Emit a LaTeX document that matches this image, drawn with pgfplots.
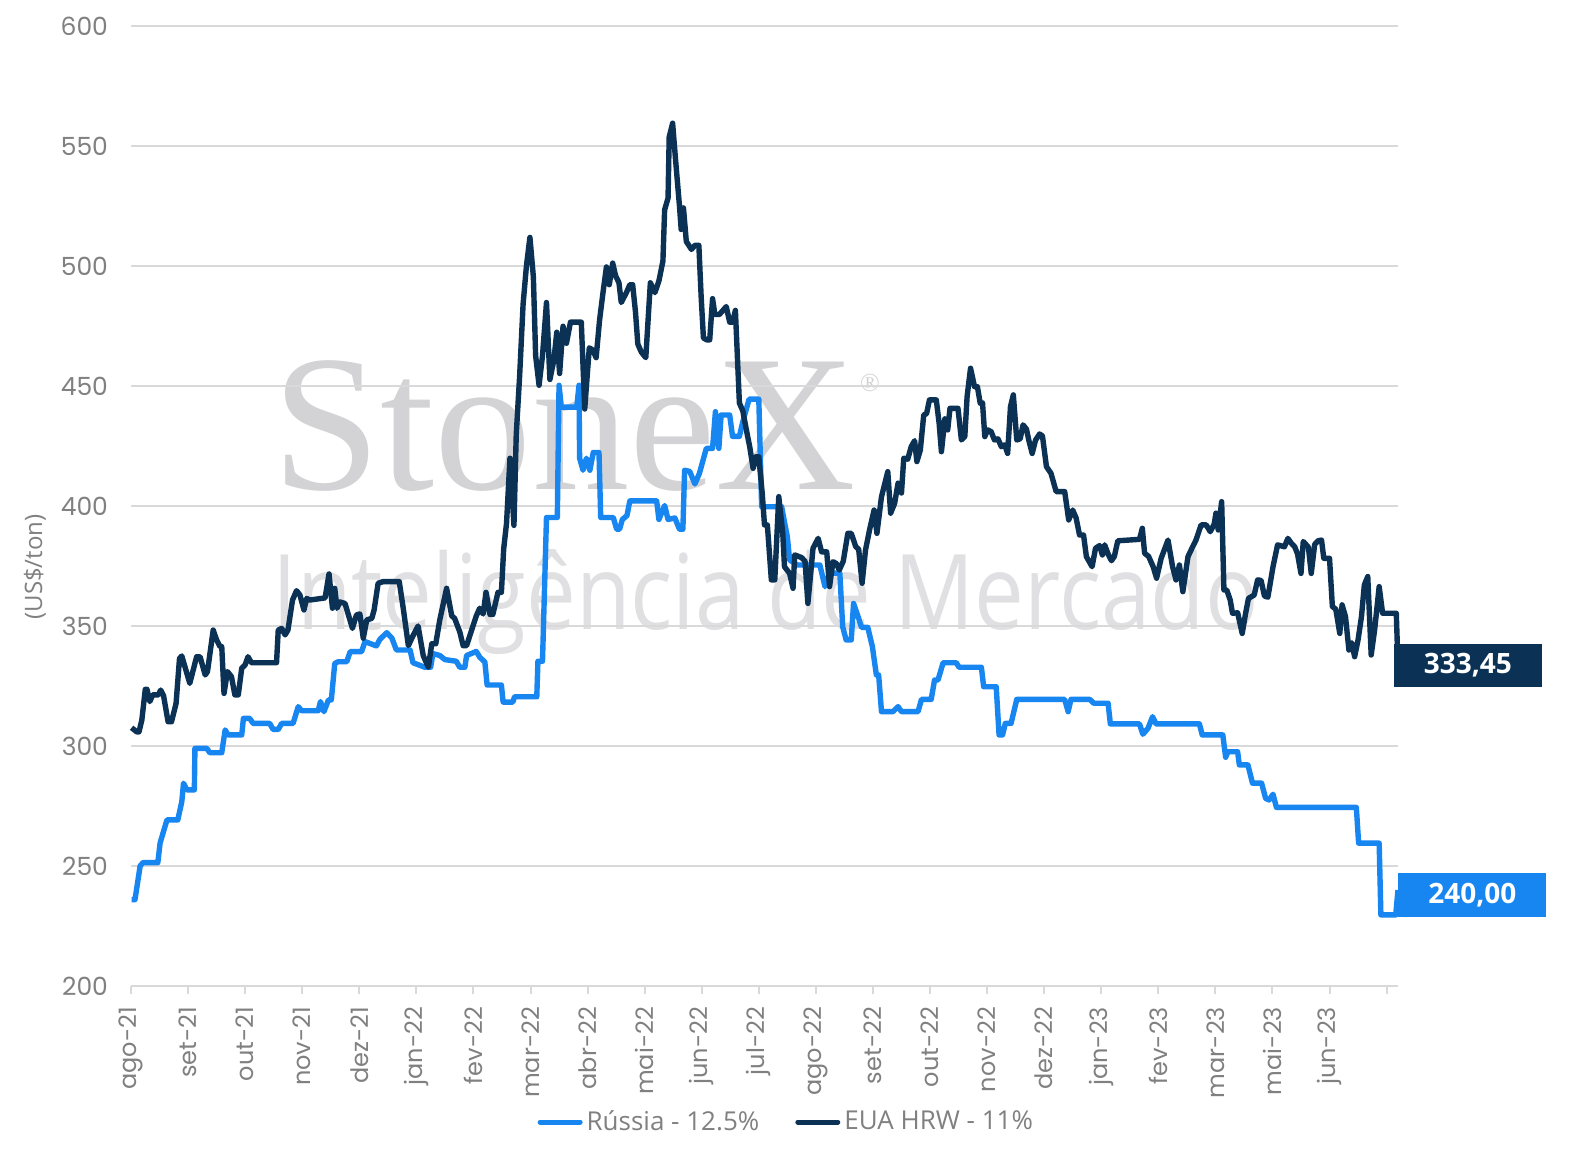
\documentclass[border=0pt]{standalone}
\usepackage{fontspec}
\usepackage{pgfplots}
\pgfplotsset{compat=1.18}
\setmainfont{Open Sans}
\newfontfamily\tickfont{Poppins}
\newfontfamily\legfont{Open Sans}
\newfontfamily\wmserif{Liberation Serif}
\newfontfamily\wmsans{Open Sans}
\definecolor{rus}{HTML}{1786F0}
\definecolor{eua}{HTML}{0B3154}
\definecolor{gridc}{HTML}{D9D9D9}
\definecolor{txt}{HTML}{808080}
\definecolor{wm}{HTML}{D3D3D5}
\definecolor{wmb}{HTML}{E0E0E2}
\begin{document}
\begin{tikzpicture}
\useasboundingbox (0pt,0pt) rectangle (785.5pt,580pt);
\fill[white] (0pt,0pt) rectangle (785.5pt,580pt);
% watermark
\node[anchor=base west,inner sep=0pt,text=wm] at (136pt,335pt) {\resizebox{292pt}{!}{\wmserif StoneX}};
\node[anchor=center,inner sep=0pt,text=wm] at (435pt,388.5pt) {\wmserif\fontsize{13}{13}\selectfont ®};
\node[anchor=base west,inner sep=0pt,text=wmb] at (136pt,265pt) {\resizebox{493pt}{40pt}{\wmsans Inteligência de Mercado}};
% y label
\node[rotate=90,text=txt,font=\legfont\fontsize{12}{12}\selectfont] at (17.5pt,296.5pt) {(US\$/ton)};
\begin{axis}[
  at={(65.5pt,87pt)}, anchor=south west, scale only axis,
  width=633.5pt, height=480pt,
  xmin=0, xmax=22.2, ymin=200, ymax=600,
  ytick={200,250,...,600},
  ymajorgrids, major grid style={gridc, line width=0.75pt},
  axis x line*=bottom, axis y line*=left,
  y axis line style={draw=none},
  x axis line style={gridc, line width=1pt},
  xtick={0,...,22},
  xticklabels={ago-21,set-21,out-21,nov-21,dez-21,jan-22,fev-22,mar-22,abr-22,mai-22,jun-22,jul-22,ago-22,set-22,out-22,nov-22,dez-22,jan-23,fev-23,mar-23,mai-23,jun-23,{}},
  tick align=outside,
  major tick length=4pt,
  x tick style={gridc, line width=1pt},
  y tick style={draw=none},
  /pgf/number format/assume math mode=true,
  x tick label style={yshift=-3pt, rotate=90, anchor=east, text=txt, font=\tickfont\fontsize{12}{12}\selectfont},
  y tick label style={xshift=-4pt, text=txt, font=\tickfont\fontsize{12.5}{12.5}\selectfont},
  clip=false,
  legend style={at={(0.518,-0.1417)}, anchor=center, draw=none, fill=none,
     font=\legfont\fontsize{13}{13}\selectfont, text=txt,
     /tikz/every even column/.append style={column sep=16pt}},
  legend columns=2,
  legend image code/.code={\draw[line width=2.5pt,line cap=round] (0pt,0pt) -- (20pt,0pt);},
]
\addplot[rus, line width=2.7pt, line join=round] coordinates {
(0.01,236)(0.07,236)(0.16,250)(0.21,251.4)(0.47,251.4)(0.51,259.6)(0.63,269.2)(0.82,269.2)
(0.89,276.8)(0.92,284.5)(0.98,281.7)(1.11,281.7)(1.12,299)(1.33,299)(1.38,297.2)(1.59,297.2)
(1.65,306.7)(1.70,304.6)(1.94,304.6)(1.97,311.5)(2.08,311.5)(2.14,309.4)(2.43,309.4)(2.49,306.9)
(2.58,306.9)(2.64,309.4)(2.84,309.4)(2.93,316.4)(2.99,314.7)(3.28,314.7)(3.32,318.5)(3.38,314.3)
(3.46,319.2)(3.51,319.2)(3.57,334.4)(3.63,335.1)(3.78,335.1)(3.84,339.3)(4.04,339.3)(4.10,343.5)
(4.30,341.7)(4.36,344.4)(4.48,347.2)(4.57,345)(4.65,340)(4.89,340)(4.94,334.7)(5.15,332.8)
(5.25,332.8)(5.29,338.5)(5.41,337.7)(5.50,336)(5.70,335.3)(5.76,332.8)(5.85,332.8)(5.88,337.7)
(6.05,339.4)(6.11,337)(6.20,335)(6.24,325.4)(6.49,325.4)(6.52,318.3)(6.69,318.3)(6.72,320.5)
(7.11,320.5)(7.13,335.3)(7.21,335.3)(7.28,395.2)(7.47,395.2)(7.50,450.3)(7.54,441.2)(7.81,441.2)
(7.85,450.3)(7.86,419.9)(7.92,414.9)(7.98,419.9)(8.04,414.9)(8.10,422.3)(8.20,422.3)(8.23,395.2)
(8.45,395.2)(8.51,390.3)(8.56,390.3)(8.61,394.4)(8.69,396)(8.74,402.1)(9.21,402.1)(9.25,394.4)
(9.35,400.2)(9.41,394.4)(9.53,395)(9.61,390.3)(9.67,390.3)(9.70,414.9)(9.79,414.4)(9.88,409.2)
(9.96,413.6)(10.08,424)(10.19,424)(10.24,439.3)(10.30,424)(10.34,437.9)(10.49,437.9)(10.54,429)
(10.66,429)(10.72,435.1)(10.83,444.5)(11.00,444.5)(11.05,399.7)(11.40,399.7)(11.46,392)(11.50,387.2)
(11.54,377.5)(11.67,375.4)(12.07,375.4)(12.16,366.4)(12.24,372)(12.42,372)(12.47,349.7)(12.53,344.2)
(12.62,344.2)(12.66,359.4)(12.74,353.9)(12.80,349.4)(12.91,349.4)(12.99,341.4)(13.06,329.6)(13.10,329.6)
(13.15,314.3)(13.35,314.3)(13.44,316.4)(13.50,314.3)(13.79,314.3)(13.85,319.4)(14.02,319.4)(14.08,327.5)
(14.14,327.5)(14.23,334.7)(14.46,334.7)(14.51,332.8)(14.90,332.8)(14.94,324.7)(15.16,324.7)(15.21,304.6)
(15.27,304.6)(15.32,309.4)(15.42,309.4)(15.52,319.4)(16.36,319.4)(16.42,314.3)(16.47,319.4)(16.80,319.4)
(16.87,317.8)(17.12,317.8)(17.16,309.2)(17.67,309.2)(17.73,304.9)(17.82,307.4)(17.90,312.2)(17.96,309.2)
(18.72,309.2)(18.77,304.6)(19.13,304.6)(19.18,295.3)(19.22,297.6)(19.39,297.6)(19.42,292.1)(19.57,292.1)
(19.65,284.5)(19.81,284.5)(19.88,278.2)(19.94,277.5)(20.01,279.9)(20.07,274.4)(21.47,274.4)(21.51,259.5)
(21.87,259.5)(21.90,229.6)(22.16,229.6)(22.20,240)
};
\addlegendentry{Rússia - 12.5\%}
\addplot[eua, line width=2.7pt, line join=round] coordinates {
(0.01,307.6)(0.10,305.9)(0.14,305.9)(0.19,310.8)(0.25,323.6)(0.28,323.6)(0.33,318.5)(0.38,321.3)
(0.48,321.3)(0.52,323.3)(0.57,321)(0.65,310.1)(0.71,310.1)(0.79,317.8)(0.85,336.5)(0.89,337.5)
(1.03,326.1)(1.15,337.2)(1.21,337.2)(1.30,329.6)(1.34,331)(1.44,348.3)(1.50,344.2)(1.56,341.4)
(1.59,341.4)(1.63,321.9)(1.69,331)(1.76,328.9)(1.82,321.3)(1.88,321.3)(1.94,332.4)(2.00,333.8)
(2.05,337.2)(2.11,334.7)(2.55,334.7)(2.58,348.3)(2.64,349)(2.70,346.3)(2.75,348.3)(2.83,360.8)
(2.90,364.7)(2.96,362.9)(3.03,356.7)(3.08,361.5)(3.13,360.8)(3.40,361.7)(3.47,371.7)(3.53,357.4)
(3.57,365.7)(3.61,357.4)(3.66,360)(3.75,359.4)(3.81,354.6)(3.88,349)(3.95,354.6)(4.01,355)
(4.07,344.9)(4.13,352.5)(4.22,353.2)(4.26,356.7)(4.33,367.8)(4.42,368.5)(4.70,368.5)(4.77,357.4)
(4.86,341.8)(4.94,345.9)(5.03,350)(5.12,337.7)(5.21,332.8)(5.27,342.6)(5.34,342.6)(5.41,352.5)
(5.53,365.7)(5.62,354.2)(5.67,353.2)(5.76,347.6)(5.82,341.8)(5.88,341.8)(5.97,348.4)(6.05,354.2)
(6.11,357.4)(6.17,355)(6.22,364)(6.29,354.8)(6.34,354.8)(6.43,364)(6.49,364)(6.53,382.1)
(6.58,392.8)(6.64,419.9)(6.71,391.9)(6.75,429.7)(6.81,454.4)(6.87,484)(6.93,500.4)(6.99,511.9)
(7.05,495.5)(7.09,462.6)(7.15,450.3)(7.21,462.6)(7.28,484.8)(7.34,452.7)(7.41,460.9)(7.46,472.4)
(7.51,455.2)(7.57,474.9)(7.63,467.8)(7.70,476.6)(7.89,476.6)(7.95,440.4)(8.03,465.9)(8.09,465)
(8.15,461.8)(8.21,477.4)(8.27,488.9)(8.33,499.6)(8.38,492.2)(8.44,501.2)(8.49,496)(8.55,493)
(8.59,484.8)(8.68,488.9)(8.74,492.2)(8.79,492.2)(8.84,480.7)(8.88,467.5)(8.94,464.2)(9.02,461.8)
(9.06,477.4)(9.10,493)(9.18,488.9)(9.25,493.8)(9.32,502)(9.35,523.4)(9.41,528.3)(9.43,553.8)
(9.49,559.5)(9.54,544.7)(9.61,525)(9.64,515.2)(9.68,524.2)(9.73,510.2)(9.82,506.9)(9.88,508.6)
(9.95,508.6)(9.99,487.2)(10.03,470)(10.09,469.2)(10.14,469.2)(10.19,486.4)(10.23,479.8)(10.31,479.8)
(10.43,483.1)(10.49,476.6)(10.54,476.6)(10.59,481.5)(10.66,442.9)(10.72,439.6)(10.78,432)(10.84,424.8)
(10.90,415.7)(10.95,420.5)(11.00,420.5)(11.06,405.3)(11.10,392.1)(11.15,392.1)(11.22,369.2)(11.28,369.2)
(11.35,403.9)(11.42,388.6)(11.45,374.7)(11.54,371.9)(11.60,365.7)(11.63,379.6)(11.75,378.5)(11.81,377)
(11.86,359.4)(11.92,374.7)(11.95,382.4)(12.04,386.5)(12.10,380.9)(12.19,380.9)(12.24,366.4)(12.30,376.8)
(12.36,376)(12.41,373.3)(12.48,377)(12.56,388.6)(12.62,388.6)(12.70,383)(12.75,382)(12.81,367.8)
(12.87,381.7)(12.94,390)(13.02,398.3)(13.07,388.6)(13.15,403.9)(13.26,414.3)(13.31,397)(13.38,401.1)
(13.44,409.5)(13.50,405.4)(13.54,419.9)(13.61,419.5)(13.67,424.7)(13.73,427.2)(13.77,418.5)(13.83,423.3)
(13.89,437.9)(13.94,438.5)(13.99,444.2)(14.11,444.2)(14.16,434.4)(14.20,422.6)(14.26,436.3)(14.31,431.7)
(14.35,440.7)(14.49,440.7)(14.55,427.5)(14.61,429)(14.65,445.6)(14.71,457.4)(14.78,449.7)(14.83,449.7)
(14.88,442.8)(14.92,443)(14.96,428.9)(15.01,431.7)(15.07,431)(15.13,427.5)(15.19,428)(15.25,424.7)
(15.31,425.5)(15.36,421.9)(15.41,441.4)(15.46,446.3)(15.52,427.5)(15.58,428)(15.63,433.8)(15.69,432)
(15.73,427.5)(15.79,421.9)(15.85,427.5)(15.92,430)(15.97,429.2)(16.04,416.4)(16.12,413.6)(16.21,406)
(16.36,406)(16.43,394.2)(16.50,398.3)(16.56,395)(16.62,387.9)(16.69,387.9)(16.74,378.9)(16.84,374.7)
(16.90,382.4)(16.97,383.5)(17.02,379.6)(17.06,383.8)(17.12,380)(17.18,377.2)(17.23,379)(17.29,385.5)
(17.67,386.1)(17.72,390.7)(17.76,380.3)(17.83,379)(17.91,374.7)(17.97,369.9)(18.05,378.2)(18.17,385.8)
(18.25,374.7)(18.31,369.2)(18.37,375.4)(18.43,364.3)(18.52,378.9)(18.59,382.4)(18.66,385.8)(18.75,392.1)
(18.84,392.1)(18.91,389.3)(18.98,392.5)(19.01,397)(19.05,390)(19.11,401.8)(19.15,365)(19.20,365)
(19.26,360.8)(19.30,355.3)(19.39,355.5)(19.47,346.9)(19.53,355.3)(19.58,361.5)(19.68,362.9)(19.74,369.2)
(19.80,369)(19.86,362.5)(19.92,362)(20.01,374.7)(20.09,383.8)(20.21,383)(20.27,386.5)(20.33,384.5)
(20.39,383)(20.44,380)(20.50,371.9)(20.54,385.2)(20.63,382.8)(20.68,371.9)(20.74,384)(20.80,385.5)
(20.86,385.8)(20.90,378.2)(21.00,378.2)(21.05,358.1)(21.11,357)(21.18,346.9)(21.22,358.8)(21.28,353.9)
(21.34,340)(21.39,343)(21.44,337.2)(21.50,344.2)(21.56,353.9)(21.61,367.1)(21.67,370.6)(21.73,337.9)
(21.79,348.3)(21.87,366.4)(21.93,355.3)(22.17,355.3)(22.20,333.5)
};
\addlegendentry{EUA HRW - 11\%}
\node[anchor=west, fill=eua, text=white, minimum width=74pt, minimum height=21.5pt, inner sep=0pt,
  font=\legfont\bfseries\fontsize{14}{14}\selectfont] at (axis cs:22.12,333.5) {333,45};
\node[anchor=west, fill=rus, text=white, minimum width=74pt, minimum height=22pt, inner sep=0pt,
  font=\legfont\bfseries\fontsize{14}{14}\selectfont] at (axis cs:22.2,238) {240,00};
\end{axis}
\end{tikzpicture}
\end{document}
